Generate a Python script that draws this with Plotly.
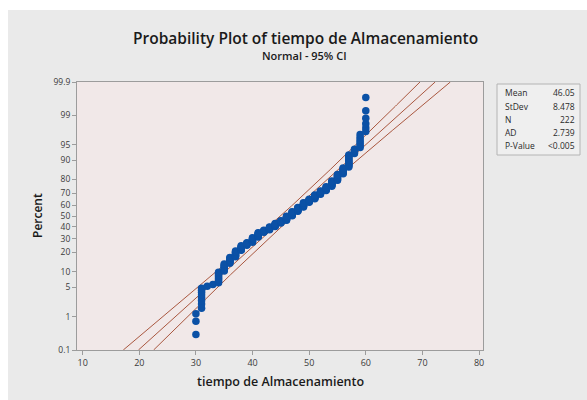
import numpy as np
import plotly.graph_objects as go
from statistics import NormalDist

values = [30, 31, 32, 33, 34, 35, 36, 37, 38, 39, 40, 41, 42, 43, 44, 45,
          46, 47, 48, 49, 50, 51, 52, 53, 54, 55, 56, 57, 58, 59, 60]
counts = [3, 8, 1, 1, 9, 8, 8, 9, 8, 5, 9, 9, 5, 6, 7, 6,
          9, 9, 9, 9, 7, 8, 7, 7, 9, 9, 8, 12, 4, 7, 7]

stat_labels = ["Mean", "StDev", "N", "AD", "P-Value"]
stat_values = ["46.05", "8.478", "222", "2.739", "<0.005"]
mean_val = 46.05
sd_val = 8.478
n_obs = 222

y_tick_pct = [0.1, 1, 5, 10, 20, 30, 40, 50, 60, 70, 80, 90, 95, 99, 99.9]
x_tick_vals = [10, 20, 30, 40, 50, 60, 70, 80]

nd = NormalDist()
obs = np.sort(np.repeat(values, counts))[:n_obs]
n = len(obs)
ranks = np.arange(1, n + 1)
pos = (ranks - 0.3) / (n + 0.4)
z_pts = np.array([nd.inv_cdf(p) for p in pos])

z_lo = nd.inv_cdf(0.001)
z_hi = nd.inv_cdf(0.999)
z_line = np.linspace(z_lo, z_hi, 200)
fit = mean_val + sd_val * z_line
se = sd_val * np.sqrt(1.0 / n_obs + z_line ** 2 / (2.0 * n_obs))
lower = fit - 1.96 * se
upper = fit + 1.96 * se

line_col = "#a9573f"
fig = go.Figure()
for xs in (lower, fit, upper):
    fig.add_trace(go.Scatter(x=xs, y=z_line, mode="lines",
                             line=dict(color=line_col, width=1),
                             hoverinfo="skip", showlegend=False))
fig.add_trace(go.Scatter(x=obs, y=z_pts, mode="markers",
                         marker=dict(color="#0b51a6", size=7.5),
                         showlegend=False))

# plot area in pixels: x 77..483, y 82..350
L, R, T, B = 77, 483, 82, 350
W, H = R - L, B - T
def px(x):
    return (x - L) / W
def py(y):
    return (B - y) / H

font = "Open Sans, Noto Sans, DejaVu Sans, sans-serif"
tick_font = dict(family=font, size=8.5, color="#3a3a3a")

fig.update_xaxes(range=[9.0, 80.7], tickvals=x_tick_vals,
                 ticktext=[str(v) for v in x_tick_vals],
                 showgrid=False, zeroline=False, showline=True,
                 linecolor="#9c9c9c", linewidth=1, mirror=True,
                 ticks="outside", ticklen=4, tickcolor="#9c9c9c",
                 tickfont=dict(family=font, size=9, color="#3a3a3a"))
fig.update_yaxes(range=[z_lo, z_hi],
                 tickvals=[nd.inv_cdf(p / 100.0) for p in y_tick_pct],
                 ticktext=[("%g" % p) for p in y_tick_pct],
                 showgrid=False, zeroline=False, showline=True,
                 linecolor="#9c9c9c", linewidth=1, mirror=True,
                 ticks="outside", ticklen=4, tickcolor="#9c9c9c",
                 tickfont=tick_font)

shapes = [
    # white strips at top and left edge of the picture
    dict(type="rect", xref="paper", yref="paper", x0=px(-5), x1=px(600),
         y0=py(10), y1=py(-5), fillcolor="white", line=dict(width=0), layer="below"),
    dict(type="rect", xref="paper", yref="paper", x0=px(-5), x1=px(8),
         y0=py(405), y1=py(-5), fillcolor="white", line=dict(width=0), layer="below"),
    # stats box
    dict(type="rect", xref="paper", yref="paper", x0=px(497), x1=px(580),
         y0=py(155), y1=py(84), fillcolor="#efefef",
         line=dict(color="#b4b4b4", width=1)),
]

ann = [
    dict(text="Probability Plot of tiempo de Almacenamiento", x=px(305), y=py(38),
         font=dict(family=font, size=15.5, color="#1a1a1a", weight=600)),
    dict(text="Normal - 95% CI", x=px(304), y=py(55),
         font=dict(family=font, size=11, color="#1a1a1a", weight=600)),
    dict(text="Percent", x=px(37), y=py(216), textangle=-90,
         font=dict(family=font, size=12, color="#1a1a1a", weight=600)),
    dict(text="tiempo de Almacenamiento", x=px(280), y=py(381),
         font=dict(family=font, size=12.5, color="#1a1a1a", weight=600)),
]
row_y = [93, 106, 119, 132, 145]
for lab, val, yy in zip(stat_labels, stat_values, row_y):
    ann.append(dict(text=lab, x=px(503), y=py(yy), xanchor="left",
                    font=dict(family=font, size=8.5, color="#2a2a2a")))
    ann.append(dict(text=val, x=px(577), y=py(yy), xanchor="right",
                    font=dict(family=font, size=8.5, color="#2a2a2a")))
for a in ann:
    a.update(xref="paper", yref="paper", showarrow=False)
    a.setdefault("xanchor", "center")
    a.setdefault("yanchor", "middle")

fig.update_layout(width=587, height=400,
                  margin=dict(l=L, r=587 - R, t=T, b=400 - B),
                  paper_bgcolor="#eaeaea", plot_bgcolor="#f1e8e8",
                  shapes=shapes, annotations=ann, showlegend=False)
fig.write_html("out.html")
